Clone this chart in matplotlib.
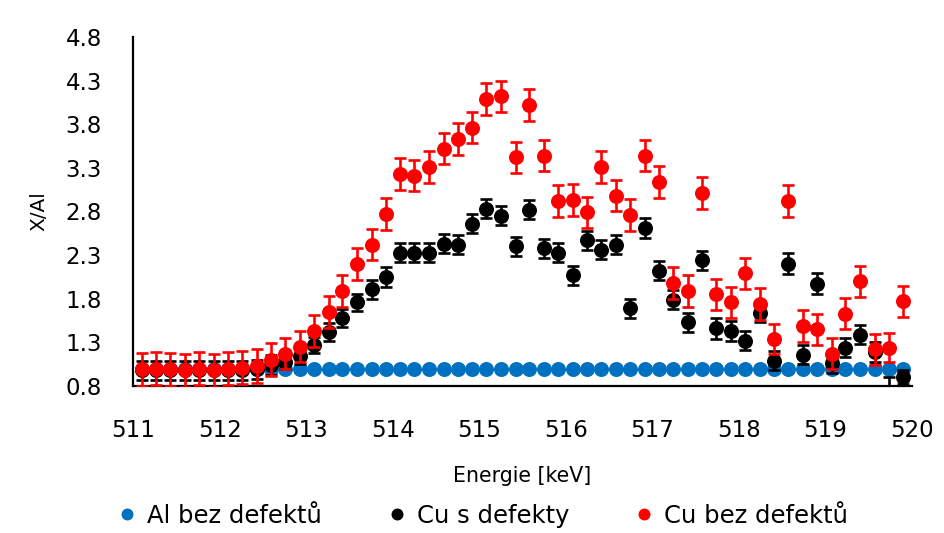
import numpy as np
import matplotlib.pyplot as plt
from matplotlib.lines import Line2D

plt.rcParams['font.family'] = 'DejaVu Sans'

# Energy channels [keV]
energie = [511.10, 511.27, 511.43, 511.60, 511.76, 511.93, 512.10, 512.26, 512.43,
           512.59, 512.76, 512.93, 513.09, 513.26, 513.42, 513.59, 513.76, 513.92,
           514.09, 514.25, 514.42, 514.59, 514.75, 514.92, 515.08, 515.25, 515.42,
           515.58, 515.75, 515.91, 516.08, 516.25, 516.41, 516.58, 516.74, 516.91,
           517.08, 517.24, 517.41, 517.57, 517.74, 517.91, 518.07, 518.24, 518.40,
           518.57, 518.74, 518.90, 519.07, 519.23, 519.40, 519.57, 519.73, 519.90]

# Al reference (ratio Al/Al)
al_bez = [1.00, 1.00, 1.00, 1.00, 1.00, 1.00, 1.00, 1.00, 1.00,
          1.00, 1.00, 1.00, 1.00, 1.00, 1.00, 1.00, 1.00, 1.00,
          1.00, 1.00, 1.00, 1.00, 1.00, 1.00, 1.00, 1.00, 1.00,
          1.00, 1.00, 1.00, 1.00, 1.00, 1.00, 1.00, 1.00, 1.00,
          1.00, 1.00, 1.00, 1.00, 1.00, 1.00, 1.00, 1.00, 1.00,
          1.00, 1.00, 1.00, 1.00, 1.00, 1.00, 1.00, 1.00, 1.00]

# Cu with defects
cu_s = [0.98, 0.98, 0.98, 0.98, 0.98, 0.98, 0.98, 0.98, 0.99,
        1.04, 1.08, 1.14, 1.27, 1.42, 1.58, 1.76, 1.91, 2.05,
        2.33, 2.33, 2.33, 2.43, 2.42, 2.66, 2.83, 2.75, 2.40,
        2.82, 2.38, 2.33, 2.07, 2.47, 2.36, 2.42, 1.69, 2.61,
        2.12, 1.79, 1.53, 2.24, 1.46, 1.43, 1.32, 1.64, 1.09,
        2.20, 1.16, 1.97, 1.06, 1.24, 1.39, 1.19, 0.79, 0.90]
cu_s_err = [0.11, 0.11, 0.11, 0.11, 0.11, 0.11, 0.11, 0.11, 0.11,
            0.11, 0.09, 0.09, 0.09, 0.10, 0.10, 0.10, 0.11, 0.11,
            0.11, 0.11, 0.11, 0.11, 0.11, 0.11, 0.11, 0.11, 0.11,
            0.11, 0.11, 0.11, 0.11, 0.11, 0.11, 0.11, 0.11, 0.11,
            0.11, 0.11, 0.11, 0.11, 0.12, 0.11, 0.11, 0.11, 0.11,
            0.12, 0.11, 0.12, 0.11, 0.11, 0.11, 0.11, 0.11, 0.08]

# Cu without defects
cu_bez = [0.99, 1.00, 0.99, 0.98, 1.00, 0.98, 1.00, 1.01, 1.03,
          1.10, 1.17, 1.25, 1.43, 1.65, 1.89, 2.20, 2.42, 2.77,
          3.23, 3.21, 3.31, 3.52, 3.63, 3.76, 4.09, 4.12, 3.42,
          4.02, 3.44, 2.92, 2.93, 2.79, 3.31, 2.98, 2.76, 3.44,
          3.14, 1.98, 1.89, 3.01, 1.85, 1.76, 2.09, 1.74, 1.34,
          2.92, 1.49, 1.45, 1.17, 1.63, 2.00, 1.22, 1.24, 1.77]
cu_bez_err = [0.19, 0.19, 0.19, 0.19, 0.19, 0.19, 0.19, 0.19, 0.19,
              0.19, 0.18, 0.18, 0.18, 0.18, 0.18, 0.18, 0.18, 0.18,
              0.18, 0.18, 0.18, 0.18, 0.18, 0.18, 0.18, 0.18, 0.18,
              0.18, 0.18, 0.18, 0.18, 0.18, 0.18, 0.18, 0.18, 0.18,
              0.18, 0.18, 0.18, 0.18, 0.18, 0.18, 0.18, 0.18, 0.17,
              0.18, 0.18, 0.18, 0.18, 0.18, 0.18, 0.18, 0.17, 0.18]

yticks = [0.8, 1.3, 1.8, 2.3, 2.8, 3.3, 3.8, 4.3, 4.8]
xticks = [511, 512, 513, 514, 515, 516, 517, 518, 519, 520]

c_al = '#0070C0'
c_cus = '#000000'
c_cub = '#FF0000'

fig = plt.figure(figsize=(9.44, 5.33), dpi=100)
ax = fig.add_axes([0.1409, 0.2758, 0.8252, 0.6548])

x = np.array(energie)


def series(vals, err, color, z):
    vals = np.array(vals)
    if err is not None:
        ax.errorbar(x, vals, yerr=err, fmt='none', ecolor=color,
                    elinewidth=1.9, capsize=4.3, capthick=1.9, zorder=z)
    # points outside the axis range are not drawn
    ok = (vals >= 0.8) & (vals <= 4.8)
    ax.plot(x[ok], vals[ok], 'o', color=color, markersize=10.8,
            markeredgewidth=0, zorder=z + 0.5)


series(al_bez, None, c_al, 2)
series(cu_s, cu_s_err, c_cus, 3)
series(cu_bez, cu_bez_err, c_cub, 4)

ax.set_xlim(511, 520)
ax.set_ylim(0.8, 4.8)
ax.set_xticks(xticks)
ax.set_xticklabels([str(t) for t in xticks])
ax.set_yticks(yticks)
ax.set_yticklabels(['%.1f' % t for t in yticks])

for s in ['top', 'right']:
    ax.spines[s].set_visible(False)
for s in ['left', 'bottom']:
    ax.spines[s].set_linewidth(1.6)
    ax.spines[s].set_color('black')

ax.tick_params(axis='x', length=0, labelsize=16.5, pad=23.5)
ax.tick_params(axis='y', length=0, labelsize=16.5, pad=22.5)

ax.set_xlabel('Energie [keV]', fontsize=14.8)
ax.xaxis.set_label_coords(0.5, -0.229)
ax.set_ylabel('X/Al', fontsize=14.5)
ax.yaxis.set_label_coords(-0.108, 0.5)

handles = [Line2D([], [], ls='none', marker='o', color=c, markersize=8.6,
                  markeredgewidth=0) for c in (c_al, c_cus, c_cub)]
fig.legend(handles, ['Al bez defektů', 'Cu s defekty', 'Cu bez defektů'],
           loc='center', bbox_to_anchor=(0.5127, 0.032), ncol=3,
           frameon=False, fontsize=17.5, handlelength=0.6,
           handletextpad=0.5, columnspacing=2.8, borderpad=0)

fig.savefig('out.png', dpi=100)
